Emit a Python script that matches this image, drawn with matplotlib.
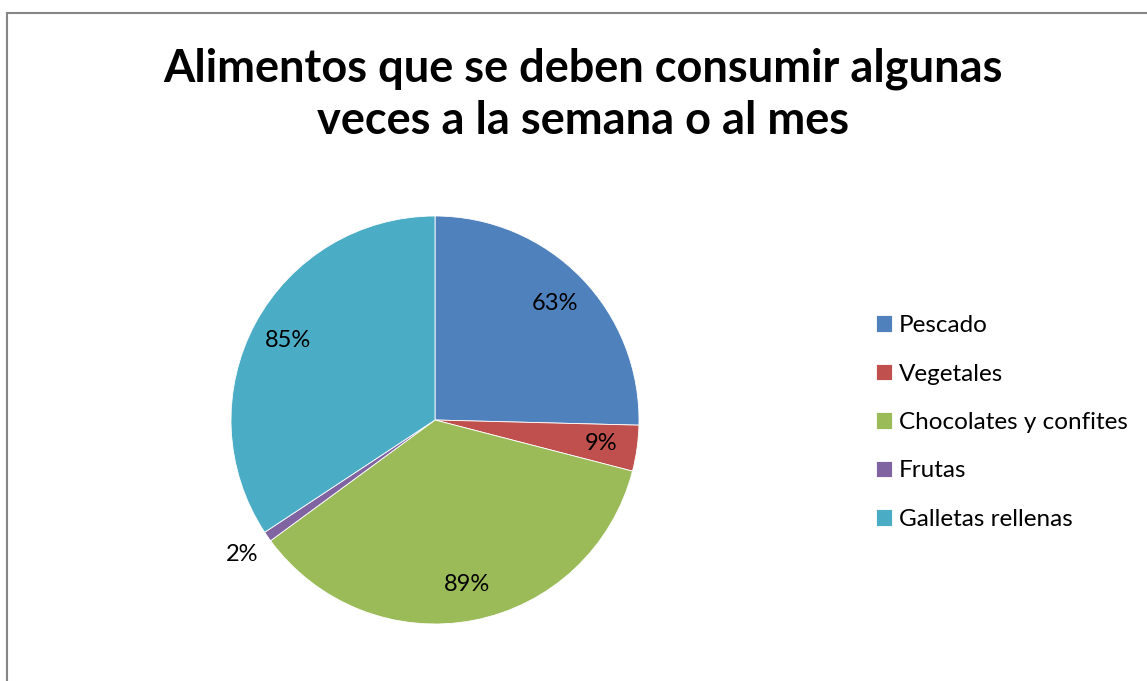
import matplotlib
matplotlib.use("Agg")
import matplotlib.pyplot as plt
from matplotlib.patches import Rectangle
import numpy as np

plt.rcParams["font.family"] = ["Lato", "DejaVu Sans"]

title = "Alimentos que se deben consumir algunas\nveces a la semana o al mes"
categories = ["Pescado", "Vegetales", "Chocolates y confites", "Frutas", "Galletas rellenas"]
values = [63, 9, 89, 2, 85]
colors = ["#4F81BD", "#C0504D", "#9BBB59", "#8064A2", "#4BACC6"]

W, H = 1147, 681
fig = plt.figure(figsize=(W / 100, H / 100), dpi=100)
fig.patch.set_facecolor("white")

# chart-area frame (only top and left edges fall inside the picture)
fig.add_artist(Rectangle((7 / W, -0.05), 1.1, (H - 13) / H + 0.05,
                         transform=fig.transFigure, fill=False,
                         edgecolor="#868686", linewidth=1.5))

cx, cy, r = 435, 420, 204
ax = fig.add_axes([(cx - r) / W, (H - cy - r) / H, 2 * r / W, 2 * r / H])
wedges, _ = ax.pie(values, colors=colors, startangle=90, counterclock=False,
                   radius=1.0, wedgeprops=dict(linewidth=0.6, edgecolor="white"))
ax.set_xlim(-1, 1)
ax.set_ylim(-1, 1)
ax.set_aspect("equal")
ax.axis("off")

# data labels: raw values shown with a percent sign
for w, v in zip(wedges, values):
    ang = np.deg2rad((w.theta1 + w.theta2) / 2)
    d = 1.15 if v < 5 else 0.82
    ax.text(d * np.cos(ang), d * np.sin(ang), f"{v}%", ha="center", va="center",
            fontsize=17, color="black", clip_on=False)

fig.text(583 / W, 1 - 95 / H, title, ha="center", va="center",
         fontsize=32.5, fontweight="bold", linespacing=1.3)

fig.legend(wedges, categories, loc="center left", bbox_to_anchor=(864 / W, 1 - 422.5 / H),
           frameon=False, fontsize=17.5, handlelength=0.65, handleheight=0.65,
           handletextpad=0.3, labelspacing=1.13, borderpad=0)

fig.savefig("out.png", dpi=100)
